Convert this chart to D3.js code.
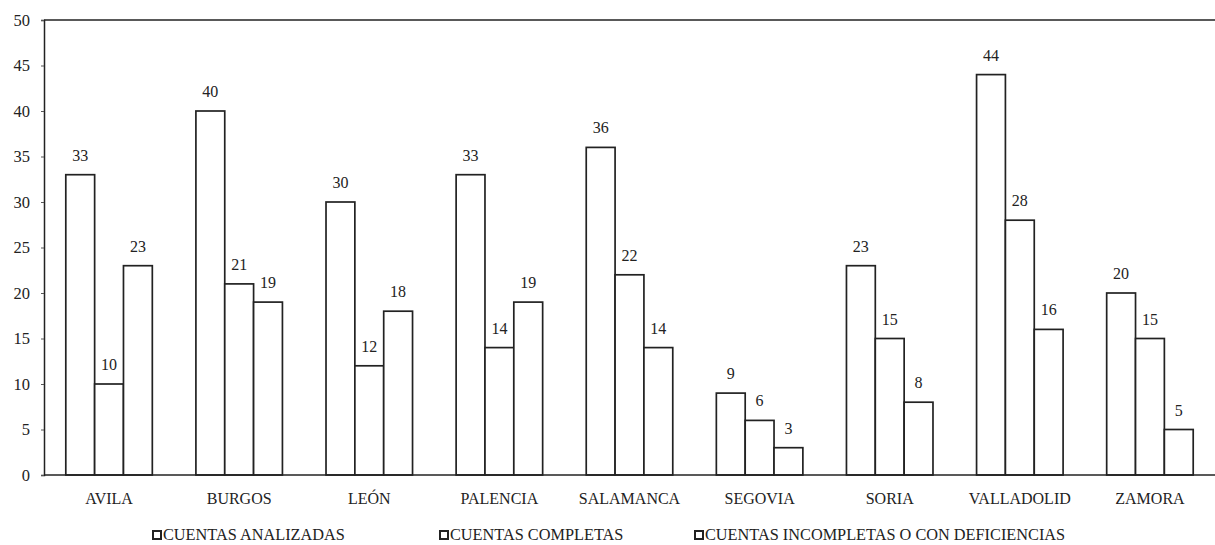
<!DOCTYPE html>
<html>
<head>
<meta charset="utf-8">
<script src="https://cdn.jsdelivr.net/npm/d3@7"></script>
<style>
  body { margin: 0; background: #fff; }
  svg text { font-family: "Liberation Serif", "Times New Roman", Times, serif; fill: #222; }
</style>
</head>
<body>
<div id="main"></div>
<script>
"use strict";

const provincias = ["AVILA", "BURGOS", "LEÓN", "PALENCIA", "SALAMANCA", "SEGOVIA", "SORIA", "VALLADOLID", "ZAMORA"];
const analizadas = [33, 40, 30, 33, 36, 9, 23, 44, 20];
const completas = [10, 21, 12, 14, 22, 6, 15, 28, 15];
const incompletas = [23, 19, 18, 19, 14, 3, 8, 16, 5];
const series = ["CUENTAS ANALIZADAS", "CUENTAS COMPLETAS", "CUENTAS INCOMPLETAS O CON DEFICIENCIAS"];
const yTicks = [0, 5, 10, 15, 20, 25, 30, 35, 40, 45, 50];

const serif = "'Liberation Serif', 'Times New Roman', Times, serif";

function main() {
    const width = 1215, height = 545;
    const margin = { top: 20, right: 0, bottom: 70, left: 44 };

    const svg = d3.select("#main").append("svg")
        .attr("width", width)
        .attr("height", height)
        .style("font-family", serif);

    const x = d3.scaleBand()
        .domain(provincias)
        .range([margin.left, width - margin.right])
        .paddingInner(0.335)
        .paddingOuter(0.1675);

    const xs = d3.scaleBand()
        .domain(series)
        .range([0, x.bandwidth()]);

    const y = d3.scaleLinear()
        .domain([0, 50])
        .range([height - margin.bottom, margin.top]);

    // top frame line
    svg.append("line")
        .attr("x1", margin.left).attr("x2", width)
        .attr("y1", y(50)).attr("y2", y(50))
        .attr("stroke", "#222").attr("stroke-width", 1.5);

    // y axis
    const yAxis = svg.append("g")
        .attr("transform", `translate(${margin.left},0)`)
        .call(d3.axisLeft(y).tickValues(yTicks).tickSize(3).tickPadding(11));
    yAxis.attr("font-family", null);
    yAxis.select(".domain").attr("stroke", "#222").attr("stroke-width", 1.5);
    yAxis.selectAll(".tick line").attr("stroke", "#555");
    yAxis.selectAll("text")
        .style("font-size", "16.5px")
        .style("font-family", serif);

    // bars
    const rows = provincias.map((p, i) => ({
        prov: p,
        vals: [analizadas[i], completas[i], incompletas[i]]
    }));

    const groups = svg.append("g")
        .selectAll("g")
        .data(rows)
        .join("g")
        .attr("transform", d => `translate(${x(d.prov)},0)`);

    groups.selectAll("rect")
        .data(d => d.vals.map((v, j) => ({ key: series[j], value: v })))
        .join("rect")
        .attr("x", d => xs(d.key))
        .attr("y", d => y(d.value))
        .attr("width", xs.bandwidth())
        .attr("height", d => y(0) - y(d.value))
        .attr("fill", "#fff")
        .attr("stroke", "#222")
        .attr("stroke-width", 1.7);

    groups.selectAll("text.val")
        .data(d => d.vals.map((v, j) => ({ key: series[j], value: v })))
        .join("text")
        .attr("class", "val")
        .attr("x", d => xs(d.key) + xs.bandwidth() / 2)
        .attr("y", d => y(d.value) - 14)
        .attr("text-anchor", "middle")
        .style("font-size", "16px")
        .text(d => d.value);

    // baseline
    svg.append("line")
        .attr("x1", margin.left).attr("x2", width)
        .attr("y1", y(0)).attr("y2", y(0))
        .attr("stroke", "#222").attr("stroke-width", 1.7);

    // category labels
    svg.append("g")
        .selectAll("text")
        .data(provincias)
        .join("text")
        .attr("x", d => x(d) + x.bandwidth() / 2)
        .attr("y", 504)
        .attr("text-anchor", "middle")
        .style("font-size", "16px")
        .text(d => d);

    // legend
    const legendX = [153, 440, 695];
    const legend = svg.append("g")
        .selectAll("g")
        .data(series)
        .join("g")
        .attr("transform", (d, i) => `translate(${legendX[i]},540)`);
    legend.append("rect")
        .attr("x", 0).attr("y", -9)
        .attr("width", 8).attr("height", 8)
        .attr("fill", "#fff").attr("stroke", "#222").attr("stroke-width", 2);
    legend.append("text")
        .attr("x", 10).attr("y", 0)
        .style("font-size", "16.3px")
        .text(d => d);
}

main();
</script>
</body>
</html>
